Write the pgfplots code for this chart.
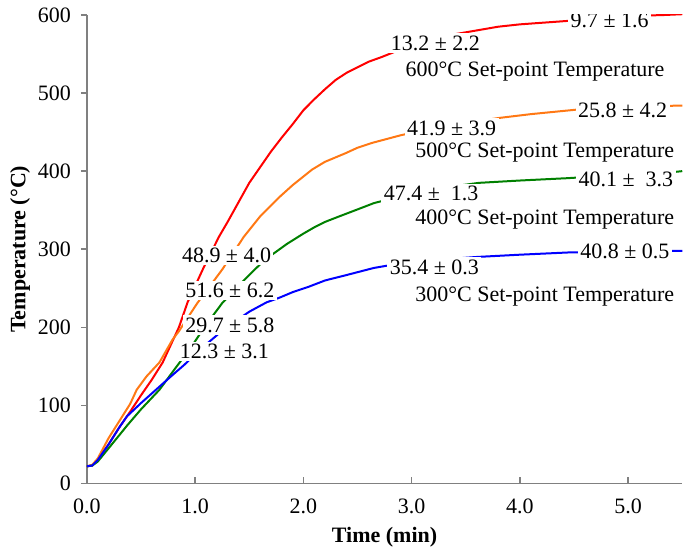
\documentclass[border=0pt]{standalone}
\usepackage{fontspec}
\setmainfont{Liberation Serif}
\usepackage{pgfplots}
\pgfplotsset{compat=1.18}
\definecolor{cred}{RGB}{255,0,0}
\definecolor{corange}{RGB}{255,120,20}
\definecolor{cgreen}{RGB}{0,128,0}
\definecolor{cblue}{RGB}{0,0,255}
\tikzset{lbl/.style={fill=white, inner sep=1.2pt, font=\fontsize{11}{13}\selectfont}}
\begin{document}
\begin{tikzpicture}
\begin{axis}[
  scale only axis, width=298pt, height=234.5pt,
  xmin=0, xmax=5.5, ymin=0, ymax=600,
  xtick={0,1,2,3,4,5}, ytick={0,100,200,300,400,500,600},
  axis x line*=bottom, axis y line*=left,
  axis line style={draw=black!50, line width=0.75pt},
  tick style={draw=black!50, line width=0.75pt},
  major tick length=3pt,
  xtick align=inside, ytick align=outside,
  /pgf/number format/assume math mode=true,
  xticklabel={\pgfmathprintnumber[fixed, fixed zerofill, precision=1]{\tick}},
  yticklabel={\pgfmathprintnumber{\tick}},
  ticklabel style={font=\fontsize{11}{13}\selectfont},
  xticklabel style={yshift=-4pt},
  yticklabel style={xshift=-1.5pt},
  xlabel={\textbf{Time (min)}}, ylabel={\textbf{Temperature (°C)}},
  ylabel shift=-3pt,
  label style={font=\fontsize{11}{13}\selectfont},
  every axis plot/.style={line width=1pt, mark=none},
]
% 600 C
\addplot[cred] coordinates {(0,22) (0.05,23) (0.1,30) (0.2,50) (0.3,72) (0.4,92) (0.5,113) (0.6,133) (0.7,155) (0.8,185) (0.85,200) (0.93,232) (1.07,274) (1.22,316) (1.3,335) (1.4,360) (1.5,385) (1.6,405) (1.7,425) (1.8,443) (1.9,460) (2.0,478) (2.1,492) (2.2,505) (2.3,517) (2.4,526) (2.5,533) (2.6,540) (2.72,546) (2.9,556) (3.1,565) (3.3,573) (3.55,579) (3.8,585) (4.0,588) (4.2,590) (4.5,593) (4.8,597) (5.1,599) (5.34,600) (5.5,601)};
% 500 C
\addplot[corange] coordinates {(0,22) (0.05,24) (0.1,32) (0.2,58) (0.3,80) (0.4,102) (0.46,120) (0.55,137) (0.67,155) (0.79,184) (0.85,195) (1.02,231) (1.25,274) (1.45,316) (1.6,342) (1.78,367) (1.9,382) (2.08,402) (2.2,412) (2.39,423) (2.5,430) (2.63,436) (2.9,446) (3.2,455) (3.52,462) (3.8,468) (4.1,473) (4.54,479) (5.0,482) (5.47,484) (5.5,484)};
% 400 C
\addplot[cgreen] coordinates {(0,22) (0.05,23) (0.1,28) (0.2,45) (0.3,62) (0.37,74) (0.5,95) (0.67,120) (0.75,135) (0.83,150) (0.95,172) (1.1,203) (1.25,231) (1.4,253) (1.55,274) (1.65,287) (1.75,297) (1.85,307) (2.0,320) (2.1,328) (2.2,335) (2.33,342) (2.5,351) (2.65,359) (2.9,368) (3.2,377) (3.62,385) (4.0,388) (4.44,391) (4.9,395) (5.2,397) (5.43,399) (5.5,400)};
% 300 C
\addplot[cblue] coordinates {(0,22) (0.05,23) (0.1,30) (0.2,50) (0.3,72) (0.37,86) (0.5,103) (0.67,124) (0.8,140) (0.9,152) (1.05,172) (1.27,198) (1.5,220) (1.66,232) (1.78,238) (1.9,245) (2.05,252) (2.2,260) (2.4,267) (2.65,276) (2.9,282) (3.2,286) (3.59,290) (4.0,293) (4.47,296) (5.0,297) (5.39,298) (5.5,298)};
% labels
\node[lbl] at (axis cs:1.27,169) {12.3 ± 3.1};
\node[lbl] at (axis cs:1.32,203) {29.7 ± 5.8};
\node[lbl] at (axis cs:1.32,247) {51.6 ± 6.2};
\node[lbl] at (axis cs:1.29,292) {48.9 ± 4.0};
\node[lbl] at (axis cs:3.22,564) {13.2 ± 2.2};
\node[lbl] at (axis cs:4.83,593) {9.7 ± 1.6};
\node[lbl] at (axis cs:3.37,455) {41.9 ± 3.9};
\node[lbl] at (axis cs:4.95,478) {25.8 ± 4.2};
\node[lbl] at (axis cs:3.18,371) {47.4 ±\ \ 1.3};
\node[lbl] at (axis cs:4.98,389) {40.1 ±\ \ 3.3};
\node[lbl] at (axis cs:3.21,277) {35.4 ± 0.3};
\node[lbl] at (axis cs:4.97,297) {40.8 ± 0.5};
\node[lbl] at (axis cs:4.14,527) {600°C Set-point Temperature};
\node[lbl] at (axis cs:4.23,424) {500°C Set-point Temperature};
\node[lbl] at (axis cs:4.23,338) {400°C Set-point Temperature};
\node[lbl] at (axis cs:4.23,239) {300°C Set-point Temperature};
\end{axis}
\path[use as bounding box] ([shift={(-43.5pt,-33pt)}]current axis.south west) rectangle ([shift={(0pt,7.5pt)}]current axis.north east);
\end{tikzpicture}
\end{document}
